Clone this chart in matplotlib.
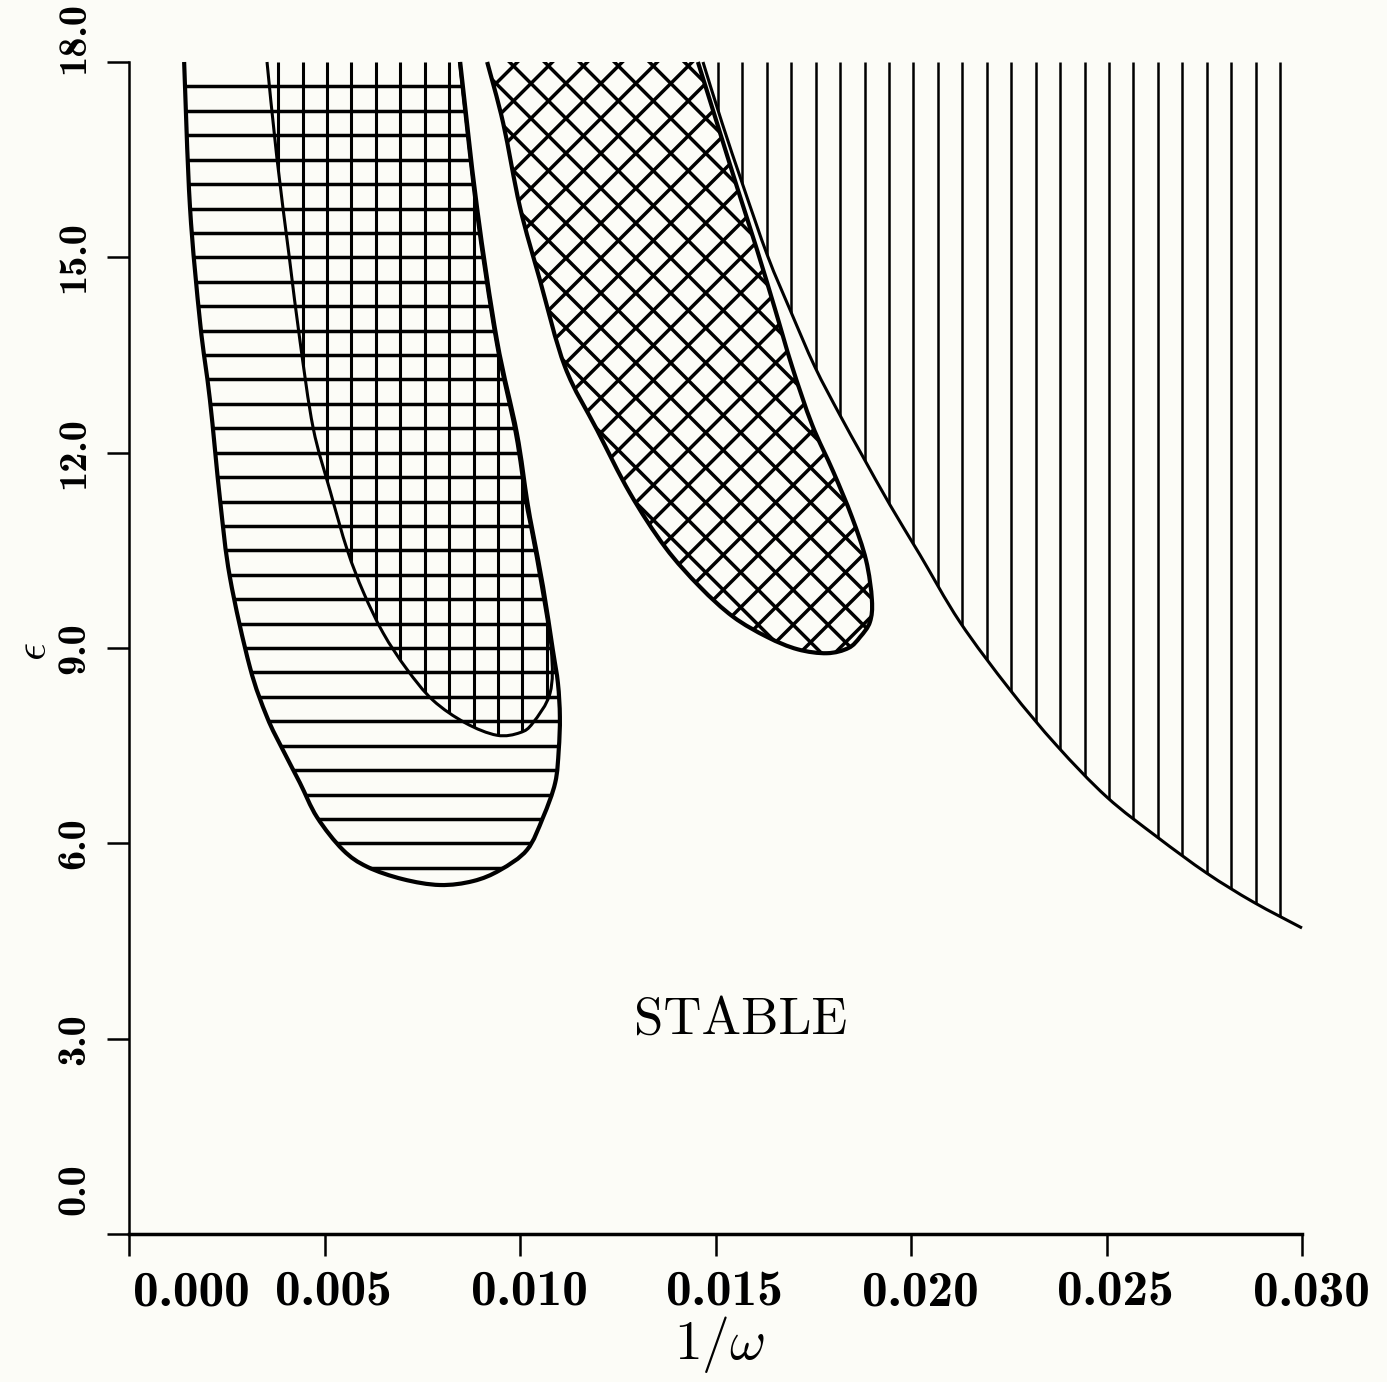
import numpy as np
import matplotlib.pyplot as plt
from matplotlib.path import Path
from matplotlib.patches import PathPatch
from matplotlib.collections import LineCollection
from matplotlib.transforms import ScaledTranslation

plt.rcParams['mathtext.fontset'] = 'cm'

# outer tongue (horizontal hatching), top-left -> bottom -> top-right
tongue_x = [0.00141, 0.00156, 0.00182, 0.00207, 0.00233, 0.00258, 0.00309, 0.00353,
            0.00394, 0.00437, 0.00481, 0.00547, 0.00609, 0.00700, 0.00795, 0.00880,
            0.00949, 0.01018, 0.01059, 0.01090, 0.01099, 0.01102, 0.01097, 0.01084,
            0.01059, 0.01033, 0.01018, 0.00992, 0.00941, 0.00890, 0.00847]
tongue_y = [18.0, 15.77, 13.99, 12.81, 11.27, 10.09, 8.71, 7.94,
            7.43, 6.93, 6.40, 5.90, 5.64, 5.45, 5.36, 5.42,
            5.59, 5.90, 6.40, 6.93, 7.43, 7.94, 8.46, 8.97,
            9.94, 10.77, 11.27, 12.30, 13.73, 15.77, 18.0]

# inner tongue (vertical hatching)
inner_x = [0.00353, 0.00378, 0.00410, 0.00437, 0.00471, 0.00515, 0.00558, 0.00600,
           0.00650, 0.00710, 0.00777, 0.00860, 0.00941, 0.01000, 0.01033, 0.01077,
           0.01080, 0.01055, 0.01030, 0.01014, 0.00988, 0.00938, 0.00887, 0.00845]
inner_y = [18.0, 16.54, 15.0, 13.73, 12.38, 11.4, 10.51, 9.85,
           9.23, 8.68, 8.20, 7.85, 7.66, 7.70, 7.85, 8.31,
           8.97, 9.94, 10.77, 11.27, 12.30, 13.73, 15.77, 18.0]

# cross-hatched loop
loop_x = [0.00916, 0.00957, 0.01000, 0.01051, 0.01115, 0.01197, 0.01281, 0.01371,
          0.01460, 0.01545, 0.01632, 0.01710, 0.01785, 0.01840, 0.01870, 0.01895,
          0.01900, 0.01885, 0.01849, 0.01801, 0.01747, 0.01696, 0.01652, 0.01606,
          0.01555, 0.01504, 0.01455]
loop_y = [18.0, 17.06, 15.77, 14.65, 13.32, 12.35, 11.38, 10.55,
          9.94, 9.48, 9.17, 8.98, 8.92, 9.00, 9.17, 9.40,
          9.74, 10.35, 11.01, 11.71, 12.43, 13.32, 14.21, 15.12,
          16.08, 17.06, 18.0]

# right-hand boundary, unstable (vertical hatching) above it
edge_x = [0.01468, 0.01517, 0.01570, 0.01634, 0.01691, 0.01754, 0.01818, 0.01875,
          0.01946, 0.02023, 0.02125, 0.02253, 0.02373, 0.02501, 0.02629, 0.02757,
          0.02875, 0.03000]
edge_y = [18.0, 17.06, 16.11, 15.01, 14.19, 13.32, 12.58, 11.96,
          11.20, 10.43, 9.40, 8.36, 7.50, 6.71, 6.10, 5.54,
          5.10, 4.70]

xticks = [0.000, 0.005, 0.010, 0.015, 0.020, 0.025, 0.030]
yticks = [0.0, 3.0, 6.0, 9.0, 12.0, 15.0, 18.0]

xmin, xmax = 0.0, 0.030
ymin, ymax = 0.0, 18.0
dx_hatch = 0.000625
dy_hatch = 0.375
diag_hatch = 0.0298   # in axes units

bg = '#fcfcf7'
fig = plt.figure(figsize=(13.87, 13.82), dpi=100, facecolor=bg)
ax = fig.add_axes([129/1387, 148/1382, 1173/1387, 1172/1382], facecolor=bg)
ax.set_xlim(xmin, xmax)
ax.set_ylim(ymin, ymax)


def curve(x, y):
    # smooth bezier through the traced points
    p = np.column_stack([x, y])
    ext = np.vstack([p[0], p, p[-1]])
    verts = [p[0]]
    codes = [Path.MOVETO]
    for i in range(len(p) - 1):
        a, b, c, d = ext[i], ext[i + 1], ext[i + 2], ext[i + 3]
        verts += [b + (c - a) / 6, c - (d - b) / 6, c]
        codes += [Path.CURVE4] * 3
    return verts, codes


def region(x, y, lw, extra=()):
    verts, codes = curve(x, y)
    ax.add_patch(PathPatch(Path(verts, codes), fill=False, ec='k', lw=lw,
                           joinstyle='round', clip_on=False, zorder=3))
    cv = list(verts) + list(extra) + [verts[0]]
    cc = list(codes) + [Path.LINETO] * len(extra) + [Path.CLOSEPOLY]
    clip = PathPatch(Path(cv, cc), facecolor='none', edgecolor='none')
    ax.add_patch(clip)
    return clip


clip_a = region(tongue_x, tongue_y, 3.0)
clip_b = region(inner_x, inner_y, 2.2)
clip_c = region(loop_x, loop_y, 3.0)
clip_d = region(edge_x, edge_y, 2.2, extra=[(xmax, ymax)])

# horizontal hatching of the outer tongue
hy = ymax - dy_hatch * np.arange(1, 48)
h = ax.hlines(hy, xmin, xmax, colors='k', lw=2.5)
h.set_clip_path(clip_a)

# vertical hatching (inner tongue and right region)
vx = dx_hatch * (np.arange(0, 48) + 0.1)
v1 = ax.vlines(vx, ymin, ymax, colors='k', lw=2.2)
v1.set_clip_path(clip_b)
v2 = ax.vlines(vx, ymin, ymax, colors='k', lw=1.8)
v2.set_clip_path(clip_d)

# diagonal cross hatching of the loop
segs = []
for c in np.arange(-1.0, 2.0, diag_hatch):
    segs.append([(0, c), (1, c + 1)])
    segs.append([(0, c), (1, c - 1)])
lc = LineCollection(segs, colors='k', lw=2.5, transform=ax.transAxes)
ax.add_collection(lc)
lc.set_clip_path(clip_c)

ax.text(0.01563, 3.29, 'STABLE', ha='center', va='center', fontfamily='cmr10', fontsize=38)

# axes styling
ax.spines[['top', 'right']].set_visible(False)
ax.spines['left'].set_linewidth(1.8)
ax.spines['bottom'].set_linewidth(2.5)
ax.set_xticks(xticks)
ax.set_xticklabels([f'{v:.3f}' for v in xticks], fontfamily='cmb10', fontsize=37)
ax.set_yticks(yticks)
ax.set_yticklabels([f'{v:.1f}' for v in yticks], fontfamily='cmb10', fontsize=29,
                   rotation=90, va='center')
ax.tick_params(direction='out', length=15.5, width=1.8)
ax.tick_params(axis='x', pad=10.5)
ax.tick_params(axis='y', pad=11)

xl = ax.get_xticklabels()
xl[0].set_horizontalalignment('left')
xl[0].set_transform(xl[0].get_transform() + ScaledTranslation(4/100, 0, fig.dpi_scale_trans))
for t in xl[1:]:
    t.set_transform(t.get_transform() + ScaledTranslation(9/100, 0, fig.dpi_scale_trans))
yl = ax.get_yticklabels()
yl[0].set_verticalalignment('bottom')
yl[0].set_transform(yl[0].get_transform() + ScaledTranslation(0, 19/100, fig.dpi_scale_trans))
yl[-1].set_verticalalignment('top')
yl[-1].set_transform(yl[-1].get_transform() + ScaledTranslation(0, 60/100, fig.dpi_scale_trans))

ax.set_xlabel(r'$1/\omega$', fontsize=40, va='center', ha='center')
ax.xaxis.set_label_coords(0.5038, -0.0947)
ax.set_ylabel(r'$\epsilon$', fontsize=32, va='center', ha='center')
ax.yaxis.set_label_coords(-0.0815, 0.4966)

fig.savefig('out.png', dpi=100, facecolor=bg)
